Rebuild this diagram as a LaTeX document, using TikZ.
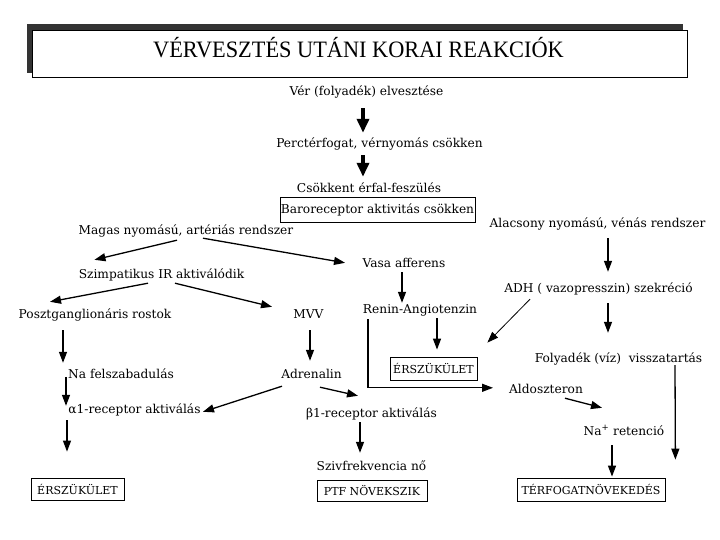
\documentclass[tikz,border=0pt]{standalone}
\usepackage{fontspec}
\setmainfont{DejaVu Serif}
\newfontfamily\titlefont{Liberation Serif}
\usetikzlibrary{arrows.meta}
\begin{document}
\begin{tikzpicture}[x=1pt,y=-1pt,
  txt/.style={inner sep=1pt, text height=9pt, text depth=3pt, anchor=base, font=\fontsize{12.2}{14}\selectfont},
  box/.style={draw, line width=0.8pt, inner sep=0pt, anchor=center, font=\fontsize{11}{13}\selectfont},
  arr/.style={-{Triangle[length=11pt,width=8pt]}, line width=1.3pt},
  thinarr/.style={-{Triangle[length=11pt,width=8pt]}, line width=0.8pt},
  bigarr/.style={-{Triangle[length=14pt,width=12pt]}, line width=4.5pt}]
\useasboundingbox (0,0) rectangle (720,540);
\fill[white] (0,0) rectangle (720,540);
% title
\fill[black!80] (27,24) rectangle (683,73);
\node[draw, fill=white, line width=0.8pt, minimum width=655pt, minimum height=47pt, inner sep=0pt] (titlebox) at (359.5,53.5) {};
\node[anchor=base, inner sep=0pt, font=\titlefont\fontsize{23.5}{26}\selectfont] (title) at (358.5,58) {\scalebox{0.95}[1]{VÉRVESZTÉS UTÁNI KORAI REAKCIÓK}};
% nodes
\node[txt] (ver) at (366.5,96) {Vér (folyadék) elvesztése};
\node[txt] (perc) at (379.5,148) {Perctérfogat, vérnyomás csökken};
\node[txt] (csok) at (369,193) {Csökkent érfal-feszülés};
\node[box, minimum width=195pt, minimum height=25pt, font=\fontsize{12.2}{14}\selectfont] (baro) at (377.5,209.5) {Baroreceptor aktivitás csökken};
\node[txt] (magas) at (186,235) {Magas nyomású, artériás rendszer};
\node[txt] (szimp) at (161.5,278) {Szimpatikus IR aktiválódik};
\node[txt] (poszt) at (95,318) {Posztganglionáris rostok};
\node[txt] (mvv) at (308.5,318) {MVV};
\node[txt] (alac) at (597.5,228) {Alacsony nyomású, vénás rendszer};
\node[txt] (vasa) at (404,267) {Vasa afferens};
\node[txt] (adh) at (598.5,292) {ADH ( vazopresszin) szekréció};
\node[txt] (renin) at (420,313) {Renin-Angiotenzin};
\node[box, minimum width=87pt, minimum height=23pt] (erszm) at (433.5,368.5) {ÉRSZÜKÜLET};
\node[txt] (foly) at (618.5,362) {Folyadék (víz)\ \ visszatartás};
\node[txt] (na) at (121,378) {Na felszabadulás};
\node[txt] (adren) at (311.5,378) {Adrenalin};
\node[txt] (alfa) at (134.5,413) {α1-receptor aktiválás};
\node[box, minimum width=93pt, minimum height=22pt] (erszl) at (77.5,489) {ÉRSZÜKÜLET};
\node[txt] (beta) at (371.5,417) {β1-receptor aktiválás};
\node[txt] (sziv) at (371.5,470) {Szivfrekvencia nő};
\node[box, minimum width=110pt, minimum height=21pt] (ptf) at (372,490.5) {PTF NÖVEKSZIK};
\node[txt] (aldo) at (546,393) {Aldoszteron};
\node[txt] (napl) at (624,435) {Na\textsuperscript{+} retenció};
\node[box, minimum width=148pt, minimum height=23pt] (terf) at (591,489.5) {TÉRFOGATNÖVEKEDÉS};
% connectors
\draw[bigarr] ([xshift=-3.5pt,yshift=-8pt]ver.south) -- ([xshift=-16.5pt,yshift=5pt]perc.north);
\draw[bigarr] ([xshift=-16.5pt,yshift=-3pt]perc.south) -- ([xshift=-6pt,yshift=6pt]csok.north);
\draw[arr] ([xshift=-9pt,yshift=-1pt]magas.south) -- ([xshift=-67pt,yshift=8pt]szimp.north);
\draw[arr] ([xshift=17pt,yshift=1pt]magas.south) -- ([xshift=-59pt,yshift=-6pt]vasa.north);
\draw[arr] ([xshift=-13.5pt,yshift=-1pt]szimp.south) -- ([xshift=-45pt,yshift=6pt]poszt.north);
\draw[arr] ([xshift=13.5pt,yshift=-1pt]szimp.south) -- ([xshift=-36.5pt,yshift=1pt]mvv.north);
\draw[arr] ([xshift=-32pt,yshift=-8pt]poszt.south) -- ([xshift=-58pt,yshift=5pt]na.north);
\draw[arr] ([xshift=-55pt,yshift=-9pt]na.north) -- ([xshift=-68.5pt,yshift=-3pt]alfa.north);
\draw[arr] ([xshift=-67.5pt,yshift=-3pt]alfa.south) -- ([xshift=-10.5pt,yshift=26pt]erszl.north);
\draw[arr] ([xshift=1.5pt,yshift=-8pt]mvv.south) -- ([xshift=-1.5pt,yshift=7pt]adren.north);
\draw[arr] ([xshift=-29.5pt,yshift=-4pt]adren.south) -- ([xshift=68.5pt,yshift=-9pt]alfa.north);
\draw[arr] ([xshift=8.5pt,yshift=-5pt]adren.south) -- ([xshift=-13.5pt,yshift=11pt]beta.north);
\draw[arr] ([xshift=-11.5pt,yshift=-1pt]beta.south) -- ([xshift=-11.5pt,yshift=7pt]sziv.north);
\draw[arr] ([xshift=-2pt,yshift=-1pt]vasa.south) -- ([xshift=-18pt]renin.north);
\draw[arr] ([xshift=17pt,yshift=-1pt]renin.south) -- ([xshift=3.5pt,yshift=7pt]erszm.north);
\draw[arr] ([xshift=-52pt,yshift=-2pt]renin.south) |- ([xshift=-53pt,yshift=-5pt]aldo.north);
\draw[arr] ([xshift=10.5pt,yshift=-6pt]alac.south) -- ([xshift=9.5pt,yshift=10pt]adh.north);
\draw[thinarr] ([xshift=-68.5pt,yshift=-3pt]adh.south) -- ([xshift=10pt,yshift=14pt]erszm.north east);
\draw[arr] ([xshift=9.5pt,yshift=-7pt]adh.south) -- ([xshift=-10.5pt,yshift=19pt]foly.north);
\draw[arr] ([xshift=56.5pt,yshift=1pt]foly.south) -- ([xshift=10pt,yshift=18pt]terf.north east);
\draw[arr] ([xshift=19pt,yshift=-1pt]aldo.south) -- ([xshift=-22pt,yshift=17pt]napl.north);
\draw[arr] ([xshift=-12pt,yshift=-6pt]napl.south) -- ([xshift=21pt,yshift=1pt]terf.north);
\end{tikzpicture}
\end{document}
